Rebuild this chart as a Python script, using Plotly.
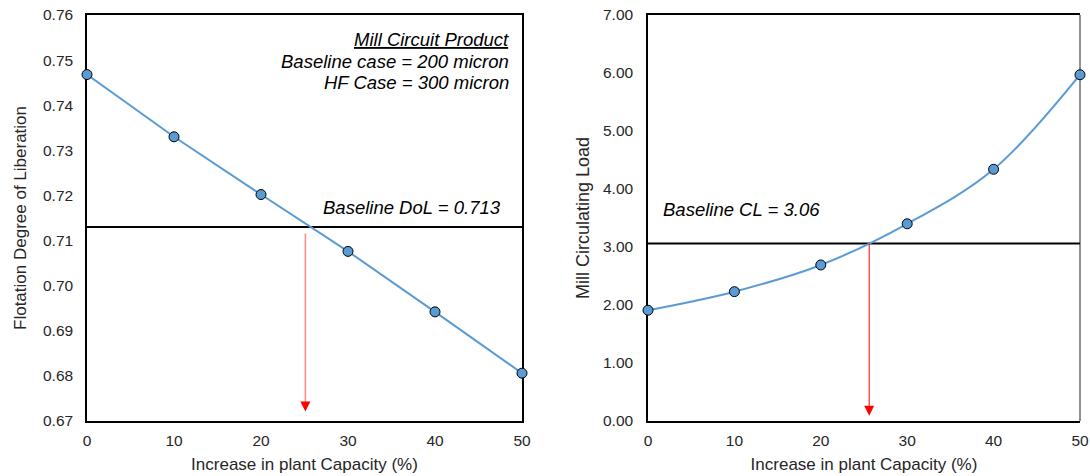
import plotly.graph_objects as go

# ---------------- data ----------------
capacity = [0, 10, 20, 30, 40, 50]
dol_values = [0.7468, 0.7330, 0.7202, 0.7076, 0.6942, 0.6806]
cl_values = [1.91, 2.23, 2.69, 3.40, 4.34, 5.97]

baseline_dol = 0.713
baseline_cl = 3.06

dol_ticks = [0.67, 0.68, 0.69, 0.70, 0.71, 0.72, 0.73, 0.74, 0.75, 0.76]
cl_ticks = [0, 1, 2, 3, 4, 5, 6, 7]
x_ticks = [0, 10, 20, 30, 40, 50]

# arrow (read-off) positions
arrow_left_x = 25.1
arrow_left_top = 0.7116
arrow_left_tip = 0.6721
arrow_right_x = 25.6
arrow_right_top = 3.06
arrow_right_tip = 0.09

FONT = "Liberation Sans, Arial, sans-serif"
BLUE = "#5B9BD5"
TXT = "#262626"

W, H = 1090, 476


def px_x(a, b):
    return [a / W, b / W]


fig = go.Figure()

# ---- left chart ----
fig.add_trace(go.Scatter(
    x=capacity, y=dol_values, mode="lines+markers",
    line=dict(color=BLUE, width=2),
    marker=dict(size=10, color=BLUE, line=dict(color="black", width=1)),
    cliponaxis=False, xaxis="x", yaxis="y", showlegend=False))

fig.add_trace(go.Scatter(
    x=[arrow_left_x, arrow_left_x], y=[arrow_left_top, arrow_left_tip + 0.001],
    mode="lines", line=dict(color="rgba(255,60,60,0.6)", width=1.5),
    xaxis="x", yaxis="y", showlegend=False, hoverinfo="skip"))
fig.add_trace(go.Scatter(
    x=[arrow_left_x], y=[arrow_left_tip], mode="markers",
    marker=dict(symbol="arrow-down", size=10, color="#FF0000", line=dict(width=0)),
    xaxis="x", yaxis="y", showlegend=False, hoverinfo="skip", cliponaxis=False))

# ---- right chart ----
fig.add_trace(go.Scatter(
    x=capacity, y=cl_values, mode="lines+markers",
    line=dict(color=BLUE, width=2, shape="spline", smoothing=1.0),
    marker=dict(size=10, color=BLUE, line=dict(color="black", width=1)),
    cliponaxis=False, xaxis="x2", yaxis="y2", showlegend=False))

fig.add_trace(go.Scatter(
    x=[arrow_right_x, arrow_right_x], y=[arrow_right_top, arrow_right_tip + 0.1],
    mode="lines", line=dict(color="#FF0000", width=1),
    xaxis="x2", yaxis="y2", showlegend=False, hoverinfo="skip"))
fig.add_trace(go.Scatter(
    x=[arrow_right_x], y=[arrow_right_tip], mode="markers",
    marker=dict(symbol="arrow-down", size=10, color="#FF0000", line=dict(width=0)),
    xaxis="x2", yaxis="y2", showlegend=False, hoverinfo="skip", cliponaxis=False))

# baseline lines
fig.add_shape(type="line", xref="x", yref="y", x0=capacity[0], x1=capacity[-1],
              y0=baseline_dol, y1=baseline_dol, line=dict(color="black", width=2), layer="below")
fig.add_shape(type="line", xref="x2", yref="y2", x0=capacity[0], x1=capacity[-1],
              y0=baseline_cl, y1=baseline_cl, line=dict(color="black", width=2), layer="below")

# right chart right border (gray)
fig.add_shape(type="line", xref="x2 domain", yref="y2 domain", x0=1, x1=1, y0=0, y1=1,
              line=dict(color="#6e6e6e", width=1.5), layer="below")

tickfont = dict(family=FONT, size=15.5, color=TXT)
titlefont = dict(family=FONT, size=17, color=TXT)

ydom = [55 / H, 461 / H]

common_x = dict(range=[0, 50], tickvals=x_ticks, showgrid=False, zeroline=False,
                showline=True, linecolor="black", ticks="outside", ticklen=5,
                tickcolor="rgba(0,0,0,0)", tickfont=tickfont, automargin=False,
                layer="below traces", fixedrange=True)

fig.update_layout(
    width=W, height=H,
    margin=dict(l=0, r=0, t=0, b=0),
    paper_bgcolor="white", plot_bgcolor="white",
    font=dict(family=FONT, color=TXT),
    xaxis=dict(common_x, domain=px_x(87, 522), anchor="y", mirror=True, linewidth=1.5,
               title=dict(text="Increase in plant Capacity (%)", font=titlefont, standoff=10)),
    yaxis=dict(domain=ydom, anchor="x", range=[0.67, 0.76], tickvals=dol_ticks,
               tickformat=".2f", showgrid=False, zeroline=False, showline=True,
               linecolor="black", linewidth=1.5, mirror=True, ticks="outside", ticklen=9,
               tickcolor="rgba(0,0,0,0)", tickfont=tickfont, automargin=False,
               layer="below traces",
               title=dict(text="Flotation Degree of Liberation",
                          font=dict(family=FONT, size=17, color=TXT), standoff=12)),
    xaxis2=dict(common_x, domain=px_x(648, 1080), anchor="y2", mirror=True, linewidth=1.5,
                title=dict(text="Increase in plant Capacity (%)", font=titlefont, standoff=10)),
    yaxis2=dict(domain=ydom, anchor="x2", range=[0, 7], tickvals=cl_ticks,
                tickformat=".2f", showgrid=False, zeroline=False, showline=True,
                linecolor="black", linewidth=1.5, ticks="outside", ticklen=10,
                tickcolor="rgba(0,0,0,0)", tickfont=tickfont, automargin=False,
                layer="below traces",
                title=dict(text="Mill Circulating Load",
                           font=dict(family=FONT, size=18, color=TXT), standoff=9)),
)

annfont = dict(family=FONT, size=18.5, color="black")
ann = [
    ("x domain", "y domain", 0.972, 0.940, "right", "<i><u>Mill Circuit Product</u></i>"),
    ("x domain", "y domain", 0.972, 0.885, "right", "<i>Baseline case = 200 micron</i>"),
    ("x domain", "y domain", 0.972, 0.833, "right", "<i>HF Case = 300 micron</i>"),
    ("x domain", "y domain", 0.954, 0.527, "right", "<i>Baseline DoL = 0.713</i>"),
    ("x2 domain", "y2 domain", 0.032, 0.520, "left", "<i>Baseline CL = 3.06</i>"),
]
for xr, yr, xx, yy, xa, t in ann:
    fig.add_annotation(xref=xr, yref=yr, x=xx, y=yy, xanchor=xa, yanchor="middle",
                       text=t, showarrow=False, font=annfont, borderpad=0)

fig.write_html("out.html")
